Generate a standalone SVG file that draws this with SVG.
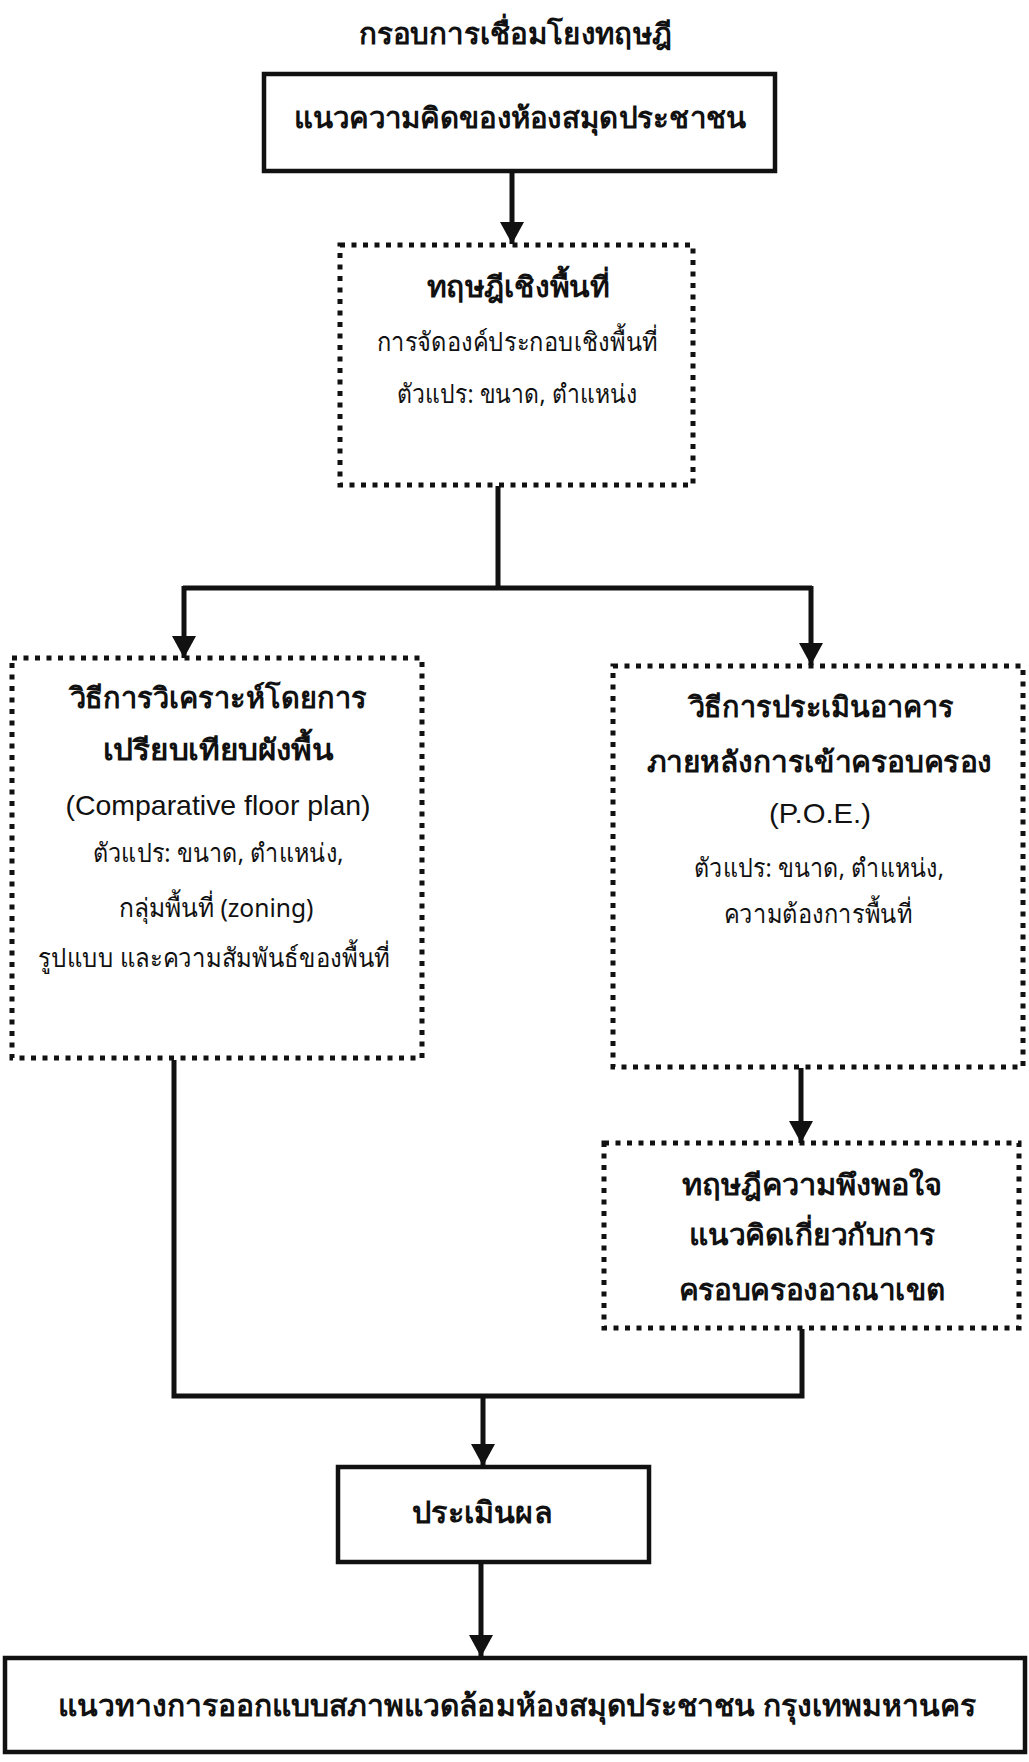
<svg xmlns="http://www.w3.org/2000/svg" width="1029" height="1762" viewBox="0 0 1029 1762">
<style>
.bg{fill:#ffffff}
.solid{fill:none;stroke:#111;stroke-width:4.5}
.dot{fill:none;stroke:#111;stroke-width:5;stroke-dasharray:5 6.5}
.con{fill:none;stroke:#111;stroke-width:5}
text{font-family:"Noto Sans","DejaVu Sans",sans-serif;fill:#111;text-anchor:middle}
.b{font-weight:bold;font-size:29px}
.r{font-size:26px}
.e{font-family:"Liberation Sans",Arial,sans-serif;font-size:28px}
.t{font-weight:bold;font-size:30px}
</style>
<defs>
<marker id="ah" markerUnits="userSpaceOnUse" markerWidth="24" markerHeight="24" refX="22" refY="12" orient="auto" viewBox="0 0 24 24">
<path d="M0,0 L22,12 L0,24 Z" fill="#111"/>
</marker>
</defs>
<rect class="bg" x="0" y="0" width="1029" height="1762"/>
<g id="title"><text class="b" x="515" y="44" textLength="313" lengthAdjust="spacingAndGlyphs">กรอบการเชื่อมโยงทฤษฎี</text></g>

<g id="connectors">
<path class="con" d="M512,172 V244" marker-end="url(#ah)"/>
<path class="con" d="M498,486 V588 M183,588 H812"/>
<path class="con" d="M184,586 V658" marker-end="url(#ah)"/>
<path class="con" d="M811,586 V665" marker-end="url(#ah)"/>
<path class="con" d="M801,1068 V1143" marker-end="url(#ah)"/>
<path class="con" d="M174,1060 V1396 H802 V1329"/>
<path class="con" d="M483,1396 V1466" marker-end="url(#ah)"/>
<path class="con" d="M481,1563 V1657" marker-end="url(#ah)"/>
</g>

<g id="n1"><rect class="solid" x="264" y="74" width="511" height="97"/>
<text class="b" x="520" y="128" textLength="453" lengthAdjust="spacingAndGlyphs">แนวความคิดของห้องสมุดประชาชน</text></g>

<g id="n2"><rect class="dot" x="340" y="245" width="353" height="240"/>
<text class="b" x="518" y="297" textLength="183" lengthAdjust="spacingAndGlyphs">ทฤษฎีเชิงพื้นที่</text>
<text class="r" x="517" y="351" textLength="281" lengthAdjust="spacingAndGlyphs">การจัดองค์ประกอบเชิงพื้นที่</text>
<text class="r" x="517" y="403" textLength="240" lengthAdjust="spacingAndGlyphs">ตัวแปร: ขนาด, ตำแหน่ง</text></g>

<g id="n3"><rect class="dot" x="12" y="658" width="410" height="400"/>
<text class="b" x="218" y="708" textLength="297" lengthAdjust="spacingAndGlyphs">วิธีการวิเคราะห์โดยการ</text>
<text class="b" x="218" y="760" textLength="231" lengthAdjust="spacingAndGlyphs">เปรียบเทียบผังพื้น</text>
<text class="e" x="218" y="815" textLength="305" lengthAdjust="spacingAndGlyphs">(Comparative floor plan)</text>
<text class="r" x="218" y="862" textLength="251" lengthAdjust="spacingAndGlyphs">ตัวแปร: ขนาด, ตำแหน่ง,</text>
<text class="r" x="216" y="917" textLength="195" lengthAdjust="spacingAndGlyphs">กลุ่มพื้นที่ (zoning)</text>
<text class="r" x="214" y="967" textLength="352" lengthAdjust="spacingAndGlyphs">รูปแบบ และความสัมพันธ์ของพื้นที่</text></g>

<g id="n4"><rect class="dot" x="613" y="666" width="410" height="401"/>
<text class="b" x="821" y="717" textLength="265" lengthAdjust="spacingAndGlyphs">วิธีการประเมินอาคาร</text>
<text class="b" x="819" y="772" textLength="345" lengthAdjust="spacingAndGlyphs">ภายหลังการเข้าครอบครอง</text>
<text class="e" x="820" y="823" textLength="102" lengthAdjust="spacingAndGlyphs">(P.O.E.)</text>
<text class="r" x="819" y="877" textLength="250" lengthAdjust="spacingAndGlyphs">ตัวแปร: ขนาด, ตำแหน่ง,</text>
<text class="r" x="818" y="923" textLength="188" lengthAdjust="spacingAndGlyphs">ความต้องการพื้นที่</text></g>

<g id="n5"><rect class="dot" x="604" y="1143" width="415" height="185"/>
<text class="b" x="812" y="1195" textLength="260" lengthAdjust="spacingAndGlyphs">ทฤษฎีความพึงพอใจ</text>
<text class="b" x="812" y="1245" textLength="247" lengthAdjust="spacingAndGlyphs">แนวคิดเกี่ยวกับการ</text>
<text class="b" x="812" y="1300" textLength="267" lengthAdjust="spacingAndGlyphs">ครอบครองอาณาเขต</text></g>

<g id="n6"><rect class="solid" x="338" y="1467" width="311" height="95"/>
<text class="t" x="482" y="1523" textLength="140" lengthAdjust="spacingAndGlyphs">ประเมินผล</text></g>

<g id="n7"><rect class="solid" x="5" y="1658" width="1020" height="94"/>
<text class="t" x="517" y="1716" textLength="919" lengthAdjust="spacingAndGlyphs">แนวทางการออกแบบสภาพแวดล้อมห้องสมุดประชาชน กรุงเทพมหานคร</text></g>
</svg>
